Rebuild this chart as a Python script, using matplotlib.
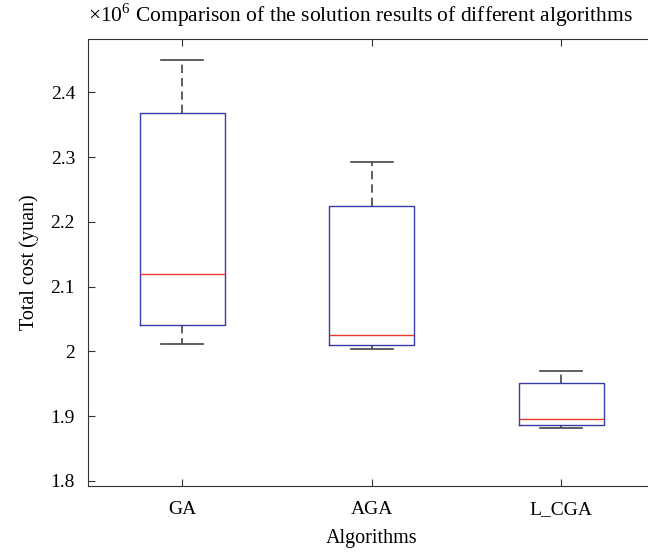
import numpy as np
import matplotlib.pyplot as plt

plt.rcParams['font.family'] = ['Liberation Serif', 'DejaVu Serif']
plt.rcParams['mathtext.fontset'] = 'custom'
plt.rcParams['mathtext.rm'] = 'Liberation Serif'

algorithms = ['GA', 'AGA', 'L_CGA']
whisker_low = [2.012, 2.004, 1.882]
q1 = [2.040, 2.010, 1.886]
median = [2.120, 2.026, 1.896]
q3 = [2.368, 2.225, 1.951]
whisker_high = [2.450, 2.292, 1.969]

stats = []
for i, name in enumerate(algorithms):
    stats.append({'label': name, 'whislo': whisker_low[i], 'q1': q1[i],
                  'med': median[i], 'q3': q3[i], 'whishi': whisker_high[i],
                  'fliers': []})

fig = plt.figure(figsize=(6.48, 5.54), dpi=100)
ax = fig.add_axes([87.5 / 648, 68 / 554, (656 - 87.5) / 648, (486 - 39.3) / 554])

ax.bxp(stats, positions=[1, 2, 3], widths=0.45, showfliers=False,
       boxprops=dict(color='#3a3aa8', linewidth=1.0),
       medianprops=dict(color='#f03a2a', linewidth=1.0),
       whiskerprops=dict(color='#444444', linestyle=(0, (5, 3)), linewidth=1.2),
       capprops=dict(color='#444444', linewidth=1.2),
       capwidths=0.22)

ax.set_xlim(0.5, 3.5)
ax.set_ylim(1.792, 2.482)
ax.set_yticks([1.8, 1.9, 2.0, 2.1, 2.2, 2.3, 2.4])
ax.set_yticklabels(['1.8', '1.9', '2', '2.1', '2.2', '2.3', '2.4'])
ax.tick_params(direction='in', top=True, right=True, labelsize=14,
               length=5, color='#333333')
ax.tick_params(axis='y', pad=9)
ax.tick_params(axis='x', pad=11)
for s in ax.spines.values():
    s.set_color('#333333')

ax.set_xlabel('Algorithms', fontsize=14.5, labelpad=8)
ax.set_ylabel('Total cost (yuan)', fontsize=14.5, labelpad=8)
ax.text(0.0, 1.022, r'$\times10^{6}$' + ' Comparison of the solution results of different algorithms',
        transform=ax.transAxes, ha='left', va='bottom', fontsize=15.5)

fig.savefig('out.png', dpi=100)
